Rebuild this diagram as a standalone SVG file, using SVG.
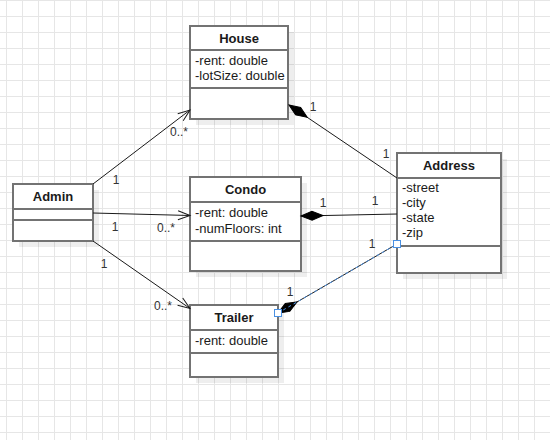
<svg xmlns="http://www.w3.org/2000/svg" width="550" height="440" viewBox="0 0 550 440">
  <defs>
    <pattern id="grid" patternUnits="userSpaceOnUse" x="6" y="0" width="16" height="16">
      <path d="M0.5,0 V16 M0,0.5 H16" fill="none" stroke="#e6e6e6" stroke-width="1"/>
    </pattern>
    <!-- open navigability arrowhead -->
    <marker id="open-arrow" markerUnits="userSpaceOnUse" markerWidth="16" markerHeight="12" refX="13" refY="6" orient="auto" overflow="visible">
      <path d="M1,1.5 L13,6 L1,10.5" fill="none" stroke="#1a1a1a" stroke-width="1"/>
    </marker>
    <!-- filled composition diamond at the whole end -->
    <marker id="diamond" markerUnits="userSpaceOnUse" markerWidth="24" markerHeight="12" refX="0" refY="6" orient="auto" overflow="visible">
      <path d="M0,6 L11,1.5 L22,6 L11,10.5 Z" fill="#000" stroke="#000" stroke-width="1"/>
    </marker>
  </defs>
  <style>
    .shadow { fill: #000; fill-opacity: 0.065; }
    .box { fill: #fff; stroke: #737373; stroke-width: 2; }
    .sep { stroke: #737373; stroke-width: 2; }
    .title { font-family: "Liberation Sans", Arial, sans-serif; font-size: 13px; font-weight: bold; fill: #1a1a1a; text-anchor: middle; }
    .attr { font-family: "Liberation Sans", Arial, sans-serif; font-size: 13px; fill: #1a1a1a; }
    .edge { fill: none; stroke: #1a1a1a; stroke-width: 1; }
    .mult { font-family: "Liberation Sans", Arial, sans-serif; font-size: 12px; fill: #333; text-anchor: middle; }
    .sel { fill: none; stroke: #4a90e2; stroke-width: 1; stroke-dasharray: 3 3; }
    .handle { fill: #fff; stroke: #4a90e2; stroke-width: 1; }
  </style>

  <rect width="550" height="440" fill="#fff"/>
  <rect width="550" height="440" fill="url(#grid)"/>

  <!-- classes -->
  <g id="house">
    <rect class="shadow" x="196" y="32" width="98" height="93"/>
    <rect class="box" x="190" y="26" width="98" height="93"/>
    <line class="sep" x1="190" y1="50" x2="288" y2="50"/>
    <line class="sep" x1="190" y1="88" x2="288" y2="88"/>
    <text class="title" x="239" y="42.5">House</text>
    <text class="attr" x="195" y="64.5">-rent: double</text>
    <text class="attr" x="195" y="80">-lotSize: double</text>
  </g>

  <g id="admin">
    <rect class="shadow" x="19" y="190" width="80" height="57"/>
    <rect class="box" x="13" y="184" width="80" height="57"/>
    <line class="sep" x1="13" y1="209" x2="93" y2="209"/>
    <line class="sep" x1="13" y1="220" x2="93" y2="220"/>
    <text class="title" x="53" y="201">Admin</text>
  </g>

  <g id="condo">
    <rect class="shadow" x="196" y="183" width="111" height="94"/>
    <rect class="box" x="190" y="177" width="111" height="94"/>
    <line class="sep" x1="190" y1="202" x2="301" y2="202"/>
    <line class="sep" x1="190" y1="241" x2="301" y2="241"/>
    <text class="title" x="245.5" y="194">Condo</text>
    <text class="attr" x="195" y="217">-rent: double</text>
    <text class="attr" x="195" y="232.5">-numFloors: int</text>
  </g>

  <g id="trailer">
    <rect class="shadow" x="196" y="311" width="88" height="72"/>
    <rect class="box" x="190" y="305" width="88" height="72"/>
    <line class="sep" x1="190" y1="330" x2="278" y2="330"/>
    <line class="sep" x1="190" y1="353" x2="278" y2="353"/>
    <text class="title" x="234" y="322">Trailer</text>
    <text class="attr" x="195" y="345">-rent: double</text>
  </g>

  <g id="address">
    <rect class="shadow" x="403" y="159" width="104" height="120"/>
    <rect class="box" x="397" y="153" width="104" height="120"/>
    <line class="sep" x1="397" y1="178" x2="501" y2="178"/>
    <line class="sep" x1="397" y1="246" x2="501" y2="246"/>
    <text class="title" x="449" y="170">Address</text>
    <text class="attr" x="402" y="192">-street</text>
    <text class="attr" x="402" y="207">-city</text>
    <text class="attr" x="402" y="222">-state</text>
    <text class="attr" x="402" y="237">-zip</text>
  </g>

  <!-- associations and compositions -->
  <g id="connectors">
    <path class="edge" d="M93,184 L190,110" marker-end="url(#open-arrow)"/>
    <path class="edge" d="M93,213 L190,215.5" marker-end="url(#open-arrow)"/>
    <path class="edge" d="M93,241 L190,308.5" marker-end="url(#open-arrow)"/>
    <path class="edge" d="M289,105 L397,178" marker-start="url(#diamond)"/>
    <path class="edge" d="M301,216 L397,214" marker-start="url(#diamond)"/>
    <path class="edge" d="M278,313 L397,244" marker-start="url(#diamond)"/>
    <!-- selection highlight on the trailer composition -->
    <path class="sel" d="M278,313 L397,244"/>
    <rect class="handle" x="274.5" y="309.5" width="7" height="7"/>
    <rect class="handle" x="393.5" y="240.5" width="7" height="7"/>

    <text class="mult" x="116" y="183.5">1</text>
    <text class="mult" x="179" y="135.5">0..*</text>
    <text class="mult" x="115" y="230.5">1</text>
    <text class="mult" x="166" y="231.5">0..*</text>
    <text class="mult" x="104" y="267.5">1</text>
    <text class="mult" x="163" y="310">0..*</text>
    <text class="mult" x="313" y="110.5">1</text>
    <text class="mult" x="386" y="157.5">1</text>
    <text class="mult" x="323" y="206.5">1</text>
    <text class="mult" x="375" y="204.5">1</text>
    <text class="mult" x="290" y="295.5">1</text>
    <text class="mult" x="372" y="247.5">1</text>
  </g>
</svg>
